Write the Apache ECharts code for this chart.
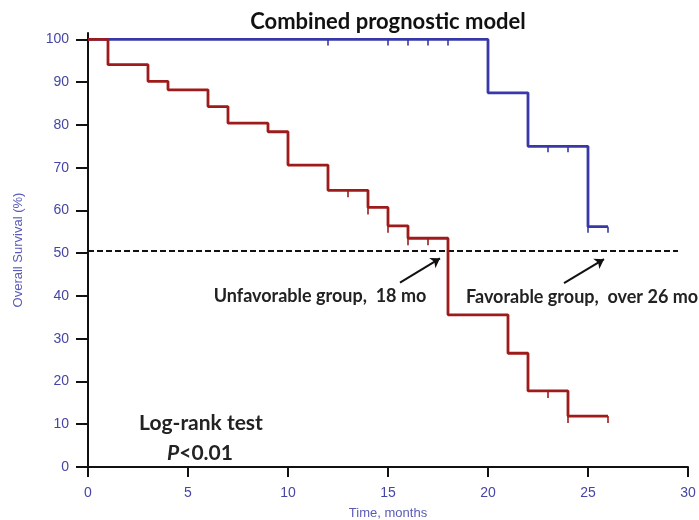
<!DOCTYPE html>
<html>
<head>
<meta charset="utf-8">
<script src="https://cdn.jsdelivr.net/npm/echarts@6/dist/echarts.min.js"></script>
<style>
  html, body { margin: 0; padding: 0; background: #fff; }
  #container { width: 699px; height: 520px; }
</style>
</head>
<body>
<div id="container"></div>
<script>
(function (window) {
  'use strict';

  // Kaplan-Meier steps
  var unfavTimes = [0, 1, 3, 4, 6, 7, 9, 10, 12, 14, 15, 16, 18, 21, 22, 24, 26];
  var unfavSurv = [100, 94.1, 90.2, 88.2, 84.3, 80.4, 78.4, 70.6, 64.7, 60.7, 56.4, 53.5, 35.6, 26.6, 17.8, 11.9, 11.9];
  var unfavCensor = [13, 14, 15, 16, 17, 23, 24, 26];

  var favTimes = [0, 20, 22, 25, 26];
  var favSurv = [100, 87.5, 75, 56.2, 56.2];
  var favCensor = [12, 15, 16, 17, 18, 23, 24, 25, 26];

  var yTicks = [0, 10, 20, 30, 40, 50, 60, 70, 80, 90, 100];
  var xTicks = [0, 5, 10, 15, 20, 25, 30];

  var medianLine = [[0, 50.5], [29.5, 50.5]];
  var arrows = [
    [[15.6, 43.1], [17.6, 48.8]],
    [[23.8, 43.0], [25.8, 48.6]]
  ];

  function pairs(xs, ys) {
    return xs.map(function (x, i) { return [x, ys[i]]; });
  }

  function levelAt(xs, ys, t) {
    var v = ys[0];
    for (var i = 0; i < xs.length; i++) {
      if (xs[i] <= t) v = ys[i];
    }
    return v;
  }

  function censorPoints(xs, ys, cs) {
    return cs.map(function (t) { return [t, levelAt(xs, ys, t)]; });
  }

  var RED = '#9e1b1b';
  var BLUE = '#3838a8';
  var LABEL_BLUE = '#4545a6';
  var TEXT_FONT = 'Lato, "Open Sans", sans-serif';

  var dom = document.getElementById('container');
  var chart = echarts.init(dom, null, { renderer: 'canvas' });

  var option = {
    animation: false,
    grid: { left: 88, right: 11, top: 33, bottom: 53, containLabel: false, outerBoundsMode: 'none' },
    xAxis: {
      type: 'value',
      min: 0,
      max: 30,
      interval: 5,
      name: 'Time, months',
      nameLocation: 'middle',
      nameGap: 40,
      nameTextStyle: { color: '#5a5ab8', fontFamily: 'Arial', fontSize: 13 },
      splitLine: { show: false },
      axisLine: { lineStyle: { color: '#111', width: 2 } },
      axisTick: { length: 10, lineStyle: { color: '#111', width: 2 }, customValues: xTicks },
      axisLabel: { color: LABEL_BLUE, fontFamily: 'Arial', fontSize: 14, margin: 19, customValues: xTicks }
    },
    yAxis: {
      type: 'value',
      min: 0,
      max: 101.5,
      name: 'Overall Survival (%)',
      nameLocation: 'middle',
      nameGap: 63,
      nameTextStyle: { color: '#5a5ab8', fontFamily: 'Arial', fontSize: 13 },
      splitLine: { show: false },
      axisLine: { lineStyle: { color: '#111', width: 2 } },
      axisTick: { length: 12, lineStyle: { color: '#111', width: 2 }, customValues: yTicks },
      axisLabel: { color: LABEL_BLUE, fontFamily: 'Arial', fontSize: 14, margin: 19, customValues: yTicks }
    },
    series: [
      {
        name: 'Median',
        type: 'line',
        data: medianLine,
        symbol: 'none',
        lineStyle: { color: '#111', width: 2, type: [6, 3] },
        silent: true,
        z: 1
      },
      {
        name: 'Favorable',
        type: 'line',
        step: 'end',
        data: pairs(favTimes, favSurv),
        symbol: 'none',
        lineStyle: { color: BLUE, width: 2.8 },
        z: 3
      },
      {
        name: 'Unfavorable',
        type: 'line',
        step: 'end',
        data: pairs(unfavTimes, unfavSurv),
        symbol: 'none',
        lineStyle: { color: RED, width: 2.8 },
        z: 4
      },
      {
        name: 'Favorable censored',
        type: 'scatter',
        data: censorPoints(favTimes, favSurv, favCensor),
        symbol: 'rect',
        symbolSize: [2, 6],
        symbolOffset: [0, 3],
        itemStyle: { color: BLUE },
        z: 3
      },
      {
        name: 'Unfavorable censored',
        type: 'scatter',
        data: censorPoints(unfavTimes, unfavSurv, unfavCensor),
        symbol: 'rect',
        symbolSize: [2, 7],
        symbolOffset: [0, 3.5],
        itemStyle: { color: RED },
        z: 4
      },
      {
        name: 'Arrows',
        type: 'line',
        data: [],
        markLine: {
          silent: true,
          symbol: ['none', 'arrow'],
          symbolSize: 9,
          label: { show: false },
          lineStyle: { color: '#111', width: 2, type: 'solid' },
          data: arrows.map(function (a) {
            return [{ coord: a[0] }, { coord: a[1] }];
          })
        }
      }
    ],
    graphic: [
      {
        type: 'text', x: 388, y: 22,
        style: { text: 'Combined prognostic model', font: 'bold 22px ' + TEXT_FONT, fill: '#111', align: 'center', verticalAlign: 'middle' }
      },
      {
        type: 'text', x: 320, y: 296,
        style: { text: 'Unfavorable group,  18 mo', font: 'bold 18px ' + TEXT_FONT, fill: '#222', align: 'center', verticalAlign: 'middle' }
      },
      {
        type: 'text', x: 466, y: 297,
        style: { text: 'Favorable group,  over 26 mo', font: 'bold 18px ' + TEXT_FONT, fill: '#222', align: 'left', verticalAlign: 'middle' }
      },
      {
        type: 'text', x: 201, y: 423,
        style: { text: 'Log-rank test', font: 'bold 21px ' + TEXT_FONT, fill: '#222', align: 'center', verticalAlign: 'middle' }
      },
      {
        type: 'text', x: 200, y: 453,
        style: {
          text: '{i|P}{n|<0.01}',
          align: 'center', verticalAlign: 'middle',
          rich: {
            i: { font: 'italic bold 21px ' + TEXT_FONT, fill: '#222' },
            n: { font: 'bold 21px ' + TEXT_FONT, fill: '#222' }
          }
        }
      }
    ]
  };

  chart.setOption(option, true);

  window.addEventListener('resize', function () {
    chart.resize();
  });
})(window);
</script>
</body>
</html>
